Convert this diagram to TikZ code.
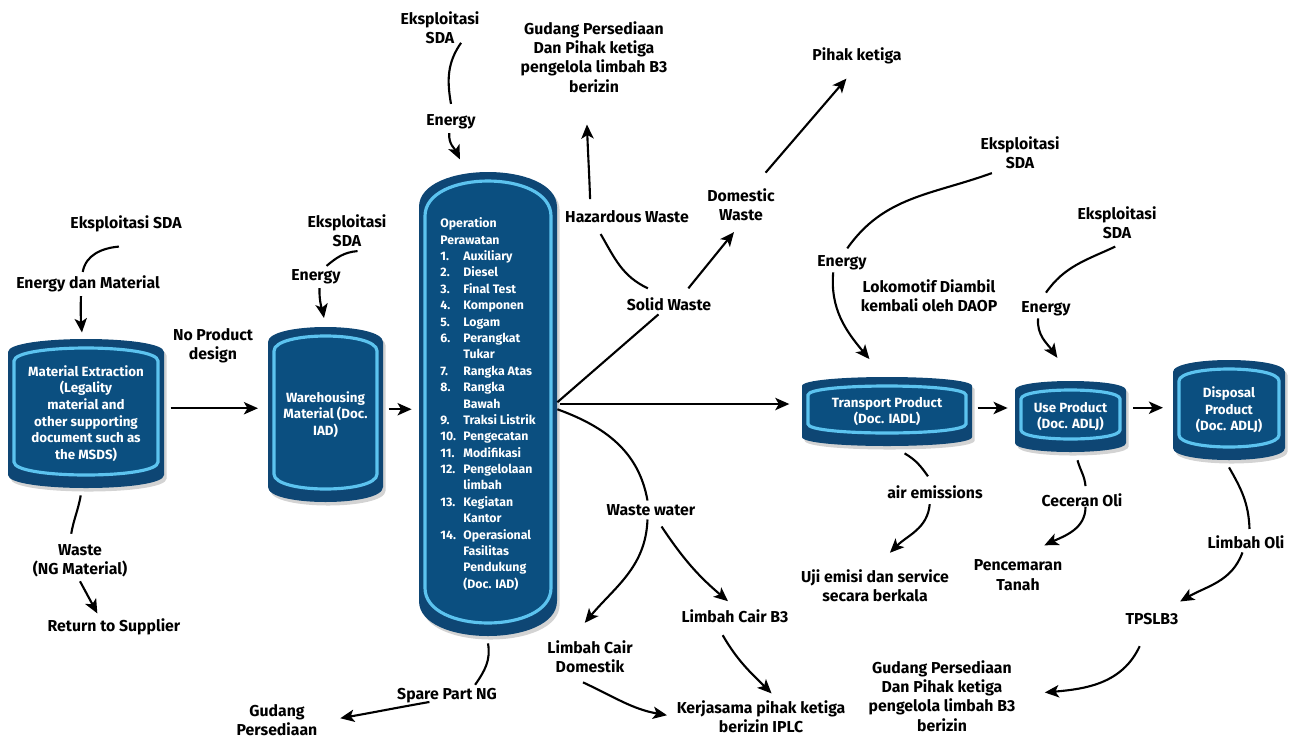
\documentclass[tikz,border=0pt]{standalone}
\usepackage{fontspec}
\setmainfont{Fira Sans}
\usetikzlibrary{arrows.meta,shadows}
\definecolor{boxdark}{HTML}{0E4674}
\definecolor{boxfill}{HTML}{0B4F80}
\definecolor{boxring}{HTML}{5CC3EF}
\tikzset{
  lbl/.style={align=center, inner sep=2pt, font=\fontsize{9}{11}\selectfont\bfseries},
  boxtext/.style={align=center, text=white, inner sep=0pt, font=\fontsize{7.6}{9.5}\selectfont\bfseries},
  arr/.style={line width=1.2pt, -{Stealth[length=8pt,width=7pt,inset=2pt]}},
  ln/.style={line width=1.2pt},
}
\newcommand{\itm}[1]{\makebox[0.46cm][l]{#1}}
% name, left, right, top, bottom, corner depth, node options, text
\newcommand{\tapebox}[8]{%
  \pgfmathsetmacro\tbTs{-(#4+#6)}%
  \pgfmathsetmacro\tbTc{-(#4-#6/3)}%
  \pgfmathsetmacro\tbBs{-(#5-#6)}%
  \pgfmathsetmacro\tbBc{-(#5+#6/3)}%
  \pgfmathsetmacro\tbL{#2+6}%
  \pgfmathsetmacro\tbR{#3-6}%
  \pgfmathsetmacro\tbiTs{-(#4+9+#6)}%
  \pgfmathsetmacro\tbiTc{-(#4+9-#6/3)}%
  \pgfmathsetmacro\tbiBs{-(#5-13-#6)}%
  \pgfmathsetmacro\tbiBc{-(#5-13+#6/3)}%
  \pgfmathsetmacro\tbW{(#3-#2)*0.02}%
  \pgfmathsetmacro\tbH{(#5-#4)*0.02}%
  \fill[boxdark, drop shadow={shadow xshift=1.5pt, shadow yshift=-2pt, opacity=.35}]
    (#2,\tbTs) .. controls (#2,\tbTc) and (#3,\tbTc) .. (#3,\tbTs) -- (#3,\tbBs)
    .. controls (#3,\tbBc) and (#2,\tbBc) .. (#2,\tbBs) -- cycle;
  \filldraw[fill=boxfill, draw=boxring, line width=1.8pt]
    (\tbL,\tbiTs) .. controls (\tbL,\tbiTc) and (\tbR,\tbiTc) .. (\tbR,\tbiTs) -- (\tbR,\tbiBs)
    .. controls (\tbR,\tbiBc) and (\tbL,\tbiBc) .. (\tbL,\tbiBs) -- cycle;
  \node[boxtext, minimum width=\tbW cm, minimum height=\tbH cm, #7] (#1)
    at ({(#2+#3)/2},{-(#4+#5)/2}) {#8};
}

\begin{document}
\begin{tikzpicture}[x=0.02cm, y=0.02cm]
\useasboundingbox (0,0) rectangle (1296,-738);

% boxes
\tapebox{mat}{8}{164}{339}{488}{13}{}{Material Extraction\\(Legality\\material and\\other supporting\\document such as\\the MSDS)}
\tapebox{wh}{268}{383}{327}{502}{15}{}{Warehousing\\Material (Doc.\\IAD)}
\tapebox{op}{419}{557}{172}{636}{35}{align=left, font=\fontsize{7}{9.33}\selectfont\bfseries}{%
Operation\\Perawatan\\
\itm{1.}Auxiliary\\\itm{2.}Diesel\\\itm{3.}Final Test\\\itm{4.}Komponen\\
\itm{5.}Logam\\\itm{6.}Perangkat\\\itm{}Tukar\\\itm{7.}Rangka Atas\\
\itm{8.}Rangka\\\itm{}Bawah\\\itm{9.}Traksi Listrik\\\itm{10.}Pengecatan\\
\itm{11.}Modifikasi\\\itm{12.}Pengelolaan\\\itm{}limbah\\\itm{13.}Kegiatan\\
\itm{}Kantor\\\itm{14.}Operasional\\\itm{}Fasilitas\\\itm{}Pendukung\\\itm{}(Doc. IAD)}
\tapebox{tr}{802}{972}{377}{446}{9}{}{Transport Product\\(Doc. IADL)}
\tapebox{use}{1015}{1126}{381}{452}{9}{}{Use Product\\(Doc. ADLJ)}
\tapebox{disp}{1173}{1285}{360}{460}{12}{}{Disposal\\Product\\(Doc. ADLJ)}

% labels
\node[lbl] (esa) at (126,-224) {Eksploitasi SDA};
\node[lbl] (edm) at (88,-284) {Energy dan Material};
\node[lbl] (esb) at (347,-231) {Eksploitasi\\SDA};
\node[lbl] (enb) at (316,-277) {Energy};
\node[lbl] (noprod) at (213,-346) {No Product\\design};
\node[lbl] (wng) at (80,-561) {Waste\\(NG Material)};
\node[lbl] (sup) at (114,-627) {Return to Supplier};
\node[lbl] (esc) at (440,-28) {Eksploitasi\\SDA};
\node[lbl] (enc) at (451,-122) {Energy};
\node[lbl] (guda) at (594,-57) {Gudang Persediaan\\Dan Pihak ketiga\\pengelola limbah B3\\berizin};
\node[lbl] (pihak) at (857,-56) {Pihak ketiga};
\node[lbl] (haz) at (627,-217) {Hazardous Waste};
\node[lbl] (dom) at (741,-205) {Domestic\\Waste};
\node[lbl] (solid) at (669,-304) {Solid Waste};
\node[lbl] (ww) at (651,-510) {Waste water};
\node[lbl] (lcd) at (590,-657) {Limbah Cair\\Domestik};
\node[lbl] (lcb) at (735,-616) {Limbah Cair B3};
\node[lbl] (iplc) at (761,-717) {Kerjasama pihak ketiga\\berizin IPLC};
\node[lbl] (spare) at (447,-696) {Spare Part NG};
\node[lbl] (gudb) at (277,-720) {Gudang\\Persediaan};
\node[lbl] (esd) at (1020,-153) {Eksploitasi\\SDA};
\node[lbl] (end) at (842,-263) {Energy};
\node[lbl] (loko) at (929,-296) {Lokomotif Diambil\\kembali oleh DAOP};
\node[lbl] (ese) at (1117,-223) {Eksploitasi\\SDA};
\node[lbl] (ene) at (1046,-309) {Energy};
\node[lbl] (air) at (935,-492) {air emissions};
\node[lbl] (uji) at (875,-586) {Uji emisi dan service\\secara berkala};
\node[lbl] (cec) at (1082,-500) {Ceceran Oli};
\node[lbl] (pen) at (1018,-575) {Pencemaran\\Tanah};
\node[lbl] (lo) at (1246,-542) {Limbah Oli};
\node[lbl] (tps) at (1152,-619) {TPSLB3};
\node[lbl] (gudc) at (942,-696) {Gudang Persediaan\\Dan Pihak ketiga\\pengelola limbah B3\\berizin};

% left part
\draw[ln] ([xshift=-4pt,yshift=-6pt]esa.south) to[out=185,in=80] ([xshift=-3pt]edm.north);
\draw[arr, shorten >=3.5pt] ([xshift=-4pt]edm.south) to[out=-92,in=95] ([xshift=-2pt]mat.north);
\draw[ln] ([xshift=-3pt,yshift=-4pt]mat.south) to[out=-100,in=80] ([xshift=-5pt,yshift=4pt]wng.north);
\draw[arr, shorten >=1pt] (wng.south) -- ([xshift=-9pt]sup.north);
\draw[ln] ([xshift=6pt]esb.south) to[out=185,in=40] ([xshift=6pt]enb.north);
\draw[arr, shorten >=5pt] ([xshift=2pt]enb.south) to[out=-92,in=100] (wh.north);
\draw[arr, shorten <=3.5pt, shorten >=5.5pt] ([yshift=3pt]mat.east) -- ([yshift=3pt]mat.east -| wh.west);
\draw[arr, shorten <=3pt, shorten >=4pt] ([yshift=3pt]wh.east) -- ([yshift=3pt]wh.east -| op.west);

% operation
\draw[ln] ([xshift=12pt,yshift=3pt]esc.south) to[out=235,in=100] ([yshift=4pt]enc.north);
\draw[arr] ([xshift=-1pt]enc.south) to[out=-95,in=115] ([xshift=-16pt,yshift=7pt]op.north);
\draw[ln] ([yshift=1pt]op.east) -- ([xshift=-6pt]solid.south);
\draw[ln] ([xshift=-12pt,yshift=3pt]solid.north) to[out=155,in=-60] ([xshift=-15pt,yshift=-4pt]haz.south);
\draw[arr] ([xshift=-21pt,yshift=4.5pt]haz.north) to[out=92,in=-88] ([xshift=-4pt,yshift=-16pt]guda.south);
\draw[arr] ([xshift=11pt,yshift=3pt]solid.north) -- ([xshift=-4pt,yshift=-4pt]dom.south);
\draw[arr] ([xshift=14pt,yshift=7pt]dom.north) -- ([xshift=-6pt,yshift=-6pt]pihak.south);
\draw[arr, shorten <=1.5pt, shorten >=7pt] (op.east) -- (op.east -| tr.west);
\draw[ln] ([yshift=-3pt]op.east) to[out=-20,in=100] ([xshift=-2pt]ww.north);
\draw[arr] ([xshift=-2pt]ww.south) to[out=-92,in=50] ([xshift=-3pt,yshift=8pt]lcd.north);
\draw[arr] ([xshift=6pt,yshift=-4pt]ww.south) to[bend right=8] ([xshift=-4pt,yshift=2.5pt]lcb.north);
\draw[arr] ([xshift=-7pt,yshift=-5pt]lcb.south) to[out=-60,in=135] ([xshift=6pt,yshift=2pt]iplc.north);
\draw[arr] ([xshift=-4pt,yshift=-3pt]lcd.south) to[out=-25,in=170] ([xshift=-53.5pt,yshift=1pt]iplc.center);
\draw[ln] ([yshift=-4pt]op.south) to[out=-80,in=55] ([xshift=16pt]spare.north);
\draw[arr] ([xshift=-10pt,yshift=3pt]spare.south) to[out=190,in=10] ([xshift=36pt,yshift=1pt]gudb.center);

% right part
\draw[ln] ([xshift=-16pt]esd.south) to[out=200,in=55] ([xshift=3pt,yshift=2pt]end.north);
\draw[arr] ([xshift=-5pt,yshift=1pt]end.south) to[out=-95,in=130] ([xshift=-10pt,yshift=10pt]tr.north);
\draw[ln] ([xshift=-1pt,yshift=-2pt]ese.south) to[out=205,in=55] ([yshift=3pt]ene.north);
\draw[arr] ([xshift=-4.5pt,yshift=1pt]ene.south) to[out=-95,in=125] ([xshift=-7.5pt,yshift=13pt]use.north);
\draw[arr, shorten <=3pt, shorten >=4pt] ([yshift=2pt]tr.east) -- ([yshift=2pt]tr.east -| use.west);
\draw[arr, shorten <=4pt, shorten >=5.5pt] ([yshift=5pt]use.east) -- ([yshift=5pt]use.east -| disp.west);
\draw[ln] ([xshift=10pt,yshift=-4pt]tr.south) to[out=-30,in=125] ([xshift=-4pt,yshift=3pt]air.north);
\draw[arr] ([xshift=-3pt,yshift=-1pt]air.south) to[out=-95,in=45] ([xshift=8.5pt,yshift=7.5pt]uji.north);
\draw[ln] ([xshift=4pt,yshift=-4.5pt]use.south) to[out=-75,in=95] ([xshift=2pt,yshift=2pt]cec.north);
\draw[arr] ([xshift=2pt,yshift=2pt]cec.south) to[out=-90,in=25] ([xshift=15pt,yshift=6pt]pen.north);
\draw[ln] ([yshift=-4pt]disp.south) to[out=-60,in=92] ([xshift=2pt,yshift=1.5pt]lo.north);
\draw[arr] ([xshift=-2pt]lo.south) to[out=-110,in=30] ([xshift=16pt,yshift=4.5pt]tps.north);
\draw[arr] ([xshift=-7pt,yshift=-10pt]tps.south) to[out=-115,in=5] ([xshift=58.5pt,yshift=2pt]gudc.center);
\end{tikzpicture}
\end{document}
